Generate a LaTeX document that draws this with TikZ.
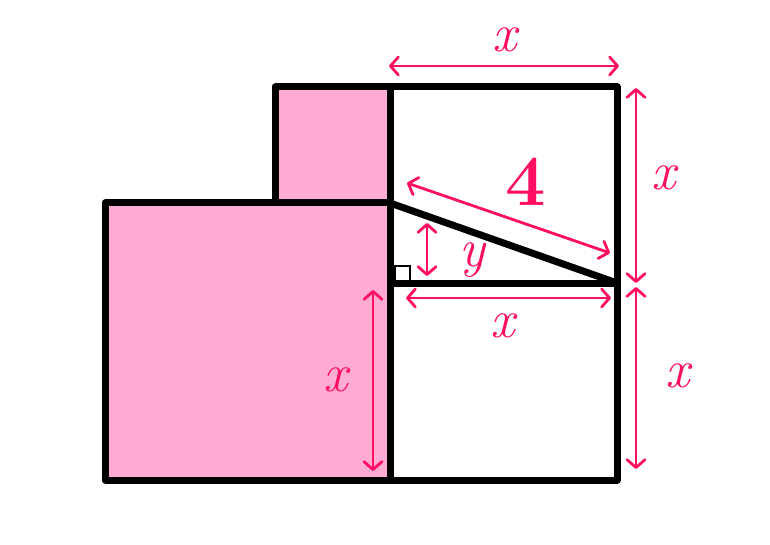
\documentclass[tikz,border=0pt]{standalone}
\usetikzlibrary{arrows.meta}
\definecolor{pinkfill}{HTML}{FFABD4}
\definecolor{mag}{HTML}{FF0F62}
\tikzset{
  edge/.style={line width=7pt, line join=round, line cap=round},
  dim/.style={mag, line width=2.8pt, line cap=round, {Straight Barb[length=8pt,width=18pt,line width=2.8pt,round]}-{Straight Barb[length=8pt,width=18pt,line width=2.8pt,round]}},
  lab/.style={mag, inner sep=0pt, font=\fontsize{54}{54}\selectfont\itshape},
}
\begin{document}
\begin{tikzpicture}[x=1pt,y=-1pt]
\useasboundingbox (0,0) rectangle (770,545);
% corner coordinates
\coordinate (A) at (105,203);
\coordinate (B) at (390,480);
\coordinate (C) at (275,87);
\coordinate (D) at (390,203);
\coordinate (E) at (617,283);
\coordinate (F) at (390,283);
\coordinate (G) at (617,480);
\coordinate (H) at (390,87);
% fills
\fill[pinkfill] (A) rectangle (B);
\fill[pinkfill] (C) rectangle (D);
% outlines
\draw[edge] (A) rectangle (B);
\draw[edge] (C) rectangle (D);
\draw[edge] (H) rectangle (E);
\draw[edge] (F) rectangle (G);
\draw[edge] (D) -- (E);
% right angle mark
\draw[line width=1.4pt] (395,281) -- (395,266) -- (410,266) -- (410,281);
% dimension arrows
\coordinate (t1) at (389,66); \coordinate (t2) at (619,66);
\draw[dim] (t1) -- (t2);
\coordinate (r1) at (636,88); \coordinate (r2) at (636,283);
\draw[dim] (r1) -- (r2);
\coordinate (r3) at (636,287); \coordinate (r4) at (636,469);
\draw[dim] (r3) -- (r4);
\coordinate (h1) at (407,183); \coordinate (h2) at (610,253);
\draw[dim] (h1) -- (h2);
\coordinate (y1) at (427,223); \coordinate (y2) at (427,276);
\draw[dim] (y1) -- (y2);
\coordinate (m1) at (406,298); \coordinate (m2) at (611,298);
\draw[dim] (m1) -- (m2);
\coordinate (l1) at (373,290); \coordinate (l2) at (373,471);
\draw[dim] (l1) -- (l2);
% labels
\node[lab] (xtop) at (505,40) {x};
\node[lab] (xr1) at (664,178) {x};
\node[lab] (xr2) at (678,376) {x};
\node[lab, font=\fontsize{72}{72}\selectfont\bfseries] (four) at (526,182) {4};
\node[lab] (ylab) at (472,260) {y};
\node[lab] (xmid) at (503,326) {x};
\node[lab] (xleft) at (336,380) {x};
\end{tikzpicture}
\end{document}
